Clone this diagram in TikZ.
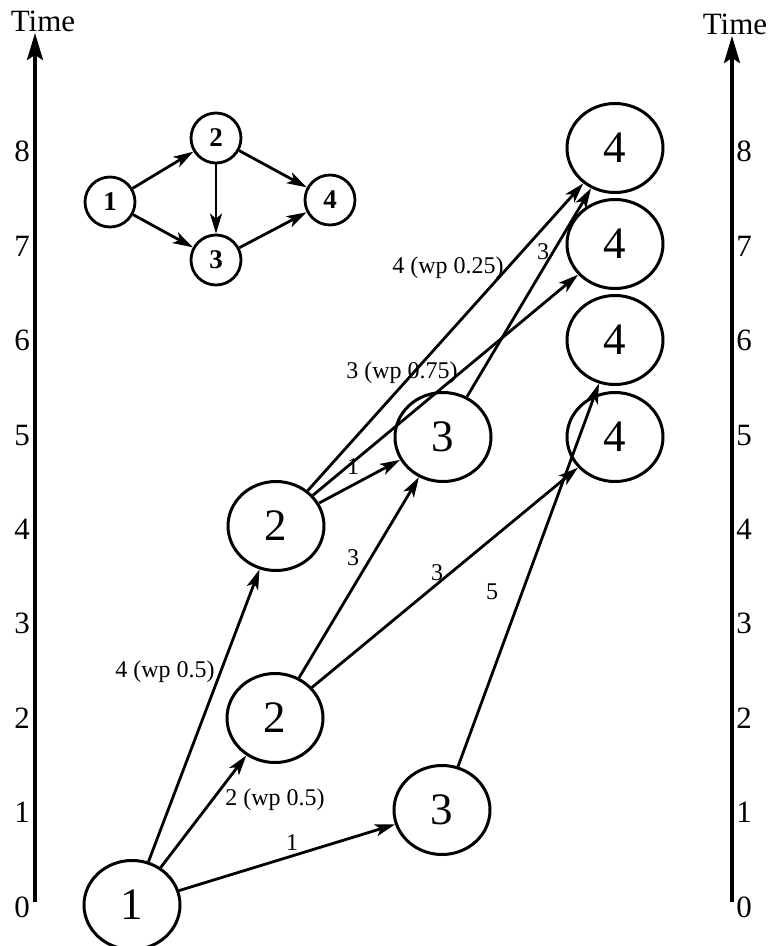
\documentclass[tikz,border=0pt]{standalone}
\usepackage{fontspec}
\setmainfont{Liberation Serif}
\usetikzlibrary{shapes.geometric,arrows.meta}
\begin{document}
\begin{tikzpicture}[x=1pt,y=-1pt,
  bignode/.style={ellipse, draw, line width=3pt, minimum width=96pt, minimum height=89pt,
    inner sep=0pt, font=\fontsize{45}{45}\selectfont},
  smallnode/.style={circle, draw, line width=2.8pt, minimum size=50pt, inner sep=0pt,
    font=\fontsize{27}{27}\selectfont\bfseries},
  conn/.style={line width=2.8pt, -{Stealth[length=20pt,width=12pt,inset=5pt]}},
  lbl/.style={font=\fontsize{24}{24}\selectfont, inner sep=0pt},
  axisline/.style={line width=3.5pt, -{Stealth[length=27pt,width=16pt,inset=5pt]}},
  ticklbl/.style={font=\fontsize{31}{31}\selectfont, inner sep=0pt},
]
\useasboundingbox (0,0) rectangle (769,946);

% time axes
\coordinate (lbot) at (35,902);
\coordinate (ltop) at (35,33);
\coordinate (rbot) at (732,902);
\coordinate (rtop) at (732,36);
\draw[axisline] (lbot) -- (ltop);
\draw[axisline] (rbot) -- (rtop);
\node[ticklbl] (ltime) at (43,21) {Time};
\node[ticklbl] (rtime) at (735,24) {Time};
\foreach \t in {0,...,8}{
  \node[ticklbl] (ltick\t) at (22,{907-94.4*\t}) {\t};
  \node[ticklbl] (rtick\t) at (744,{907-94.4*\t}) {\t};
}

% small precedence graph
\node[smallnode] (s1) at (110,202) {1};
\node[smallnode] (s2) at (216,138) {2};
\node[smallnode] (s3) at (216,260) {3};
\node[smallnode] (s4) at (330,200) {4};
\draw[conn] (s1) -- (s2);
\draw[conn] (s1) -- (s3);
\draw[conn] (s2) -- (s3);
\draw[conn] (s2) -- (s4);
\draw[conn] (s3) -- (s4);

% time-expanded graph
\node[bignode] (a0) at (132,905) {1};
\node[bignode] (b2) at (275,718) {2};
\node[bignode] (b4) at (276,526) {2};
\node[bignode] (c1) at (442,810) {3};
\node[bignode] (c5) at (443,437) {3};
\node[bignode] (d5) at (615,437) {4};
\node[bignode] (d6) at (615,340) {4};
\node[bignode] (d7) at (615,244) {4};
\node[bignode] (d8) at (615,148) {4};

\draw[conn] (a0) -- (b4);
\draw[conn] (a0) -- (b2);
\draw[conn] (a0) -- (c1);
\draw[conn] (b2) -- (c5);
\draw[conn] (b2) -- (d5);
\draw[conn] (c1) -- (d6);
\draw[conn] (b4) -- (c5);
\draw[conn] (b4) -- (d8);
\draw[conn] (b4) -- (d7);
\draw[conn] (c5) -- (d8);

% edge labels
\node[lbl] (l1) at (165,672) {4 (wp 0.5)};
\node[lbl] (l2) at (275,800) {2 (wp 0.5)};
\node[lbl] (l3) at (292,843) {1};
\node[lbl] (l4) at (353,558) {3};
\node[lbl] (l5) at (437,573) {3};
\node[lbl] (l6) at (492,592) {5};
\node[lbl] (l7) at (353,467) {1};
\node[lbl] (l8) at (448,268) {4 (wp 0.25)};
\node[lbl] (l9) at (402,373) {3 (wp 0.75)};
\node[lbl] (l10) at (543,252) {3};
\end{tikzpicture}
\end{document}
